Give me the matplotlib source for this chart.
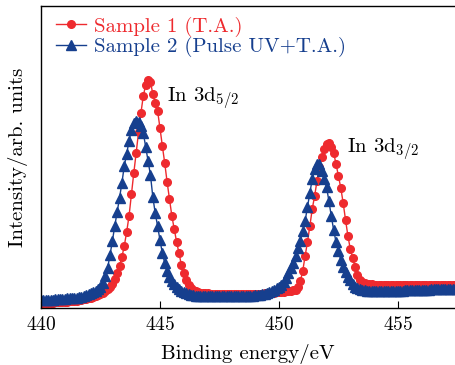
import numpy as np
import matplotlib
matplotlib.use("Agg")
import matplotlib.pyplot as plt

plt.rcParams['font.family'] = 'serif'
plt.rcParams['font.serif'] = ['cmr10']
plt.rcParams['mathtext.fontset'] = 'cm'
plt.rcParams['axes.unicode_minus'] = False
plt.rcParams['axes.formatter.use_mathtext'] = True

# Binding energy grid: 440.0 .. 457.5 eV, 0.1 eV steps (176 points)
energy = np.round(np.arange(440.0, 457.51, 0.1), 1)

sample1 = [
    # 440.0 - 444.9
    5, 5, 5, 5, 5, 5, 6, 6, 6, 6,
    6, 6, 7, 7, 7, 7, 8, 8, 9, 9,
    10, 10, 11, 12, 13, 14, 15, 17, 19, 21,
    24, 29, 35, 42, 51, 62, 76, 92, 114, 135,
    155, 176, 195, 212, 223, 228, 226, 214, 205, 197,
    # 445.0 - 449.9
    180, 162, 145, 126, 109, 92, 79, 66, 55, 43,
    35, 28, 23, 20, 18, 17, 16, 15, 15, 15,
    15, 14, 14, 14, 14, 14, 14, 14, 14, 14,
    14, 14, 14, 14, 14, 14, 14, 14, 14, 14,
    14, 14, 14, 14, 15, 15, 15, 15, 15, 16,
    # 450.0 - 454.9
    16, 16, 16, 17, 17, 17, 18, 18, 21, 27,
    37, 52, 66, 82, 99, 112, 127, 141, 151, 159,
    164, 165, 161, 155, 144, 132, 120, 105, 88, 72,
    59, 50, 41, 33, 28, 26, 25, 24, 24, 24,
    23, 23, 23, 23, 23, 23, 23, 23, 23, 23,
    # 455.0 - 457.5
    23, 23, 23, 23, 23, 23, 23, 23, 23, 23,
    23, 23, 23, 23, 23, 23, 23, 23, 23, 23,
    23, 23, 23, 23, 23, 23,
]

sample2 = [
    # 440.0 - 444.9
    8, 8, 8, 8, 8, 8, 9, 9, 9, 9,
    9, 10, 10, 10, 10, 10, 11, 11, 12, 13,
    14, 15, 16, 17, 19, 21, 25, 32, 40, 53,
    67, 82, 96, 110, 125, 142, 154, 167, 178, 185,
    187, 186, 182, 175, 161, 147, 133, 111, 95, 82,
    # 445.0 - 449.9
    68, 55, 45, 37, 31, 27, 24, 21, 19, 17,
    16, 15, 14, 13, 13, 12, 12, 12, 12, 12,
    12, 12, 12, 12, 12, 12, 12, 12, 12, 12,
    12, 12, 12, 12, 12, 12, 12, 12, 12, 12,
    13, 13, 13, 14, 14, 15, 16, 17, 18, 20,
    # 450.0 - 454.9
    21, 23, 26, 30, 35, 40, 45, 52, 60, 67,
    77, 87, 101, 115, 129, 139, 144, 144, 137, 129,
    121, 107, 92, 78, 66, 57, 48, 41, 36, 31,
    28, 24, 21, 20, 19, 18, 18, 17, 17, 17,
    17, 17, 17, 17, 17, 17, 17, 17, 17, 17,
    # 455.0 - 457.5
    17, 17, 17, 18, 18, 18, 18, 18, 18, 18,
    18, 18, 18, 18, 19, 19, 19, 19, 19, 19,
    19, 19, 19, 19, 19, 19,
]

labels = ["Sample 1 (T.A.)", "Sample 2 (Pulse UV+T.A.)"]
xticks = [440, 445, 450, 455]
red = "#EE2A2E"
blue = "#163F8E"

fig = plt.figure(figsize=(4.55, 3.65), dpi=100)
ax = fig.add_axes([0.0901, 0.156, 0.9099, 0.828])

ax.plot(energy, sample1, color=red, marker='o', markersize=5.5, lw=1.0,
        label=labels[0])
ax.plot(energy, sample2, color=blue, marker='^', markersize=6.5, lw=1.0,
        label=labels[1])

ax.set_xlim(440, 457.4)
ax.set_ylim(0, 302)
ax.set_xticks(xticks)
ax.set_yticks([])
ax.tick_params(axis='x', direction='in', length=5, width=0.8, labelsize=14, pad=6)
ax.spines['right'].set_visible(False)
for s in ['left', 'top', 'bottom']:
    ax.spines[s].set_linewidth(1.0)

ax.set_xlabel("Binding energy/eV", fontsize=15, labelpad=7)
ax.set_ylabel("Intensity/arb. units", fontsize=15, labelpad=9)

ax.text(445.3, 209, r"In 3d$_{5/2}$", fontsize=15, va='center', ha='left')
ax.text(452.85, 158, r"In 3d$_{3/2}$", fontsize=15, va='center', ha='left')

leg = ax.legend(loc='upper left', frameon=False, fontsize=15,
                handlelength=1.45, borderaxespad=0.0, labelspacing=0.02,
                handletextpad=0.4, borderpad=0.0,
                bbox_to_anchor=(0.036, 0.965))
for txt, c in zip(leg.get_texts(), [red, blue]):
    txt.set_color(c)

fig.savefig("out.png", dpi=100)
